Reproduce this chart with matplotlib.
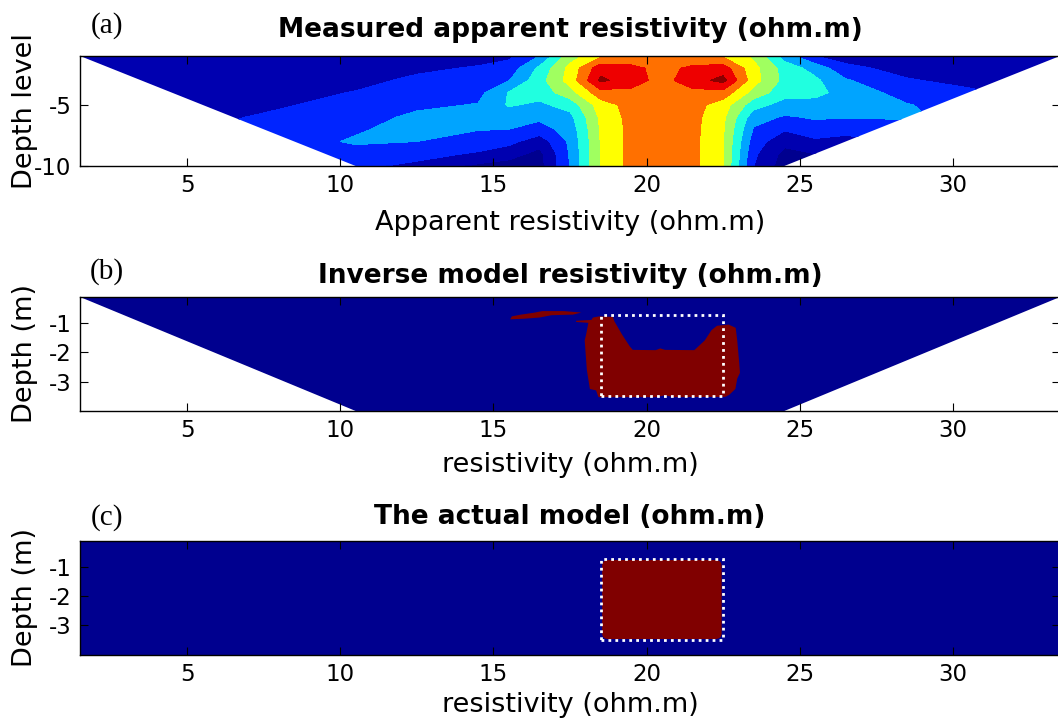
import matplotlib
matplotlib.use("Agg")
import matplotlib.pyplot as plt
from matplotlib.patches import Polygon, Rectangle, FancyBboxPatch

plt.rcParams["axes.unicode_minus"] = False
plt.rcParams["font.family"] = "DejaVu Sans"

# ---- (a) measured apparent resistivity pseudo-section (ohm.m) ----
x_stations = [1.5, 4.5, 7.5, 10.5, 12.5, 14.5, 15.5, 16.5, 17.5, 18.5, 19.5,
              20.5, 21.5, 22.5, 23.5, 24.5, 25.5, 26.5, 28.5, 30.5, 33.5]
depth_levels = [-1, -2, -3, -4, -5, -6, -7, -8, -9, -10]
app_res = [
    [1.1, 1.1, 1.15, 1.25, 1.4, 1.6, 1.8, 3.0, 5.5, 6.8, 6.9, 7.1, 6.9, 6.8, 5.8, 3.5, 2.0, 1.5, 1.3, 1.2, 1.1],
    [1.1, 1.15, 1.25, 1.45, 1.8, 2.1, 2.4, 4.2, 6.3, 8.6, 8.4, 7.5, 8.3, 8.5, 6.3, 4.6, 3.6, 2.3, 1.6, 1.35, 1.15],
    [1.1, 1.2, 1.4, 1.7, 2.2, 2.4, 2.95, 4.6, 6.4, 9.2, 8.5, 7.6, 8.6, 9.3, 6.4, 4.7, 4.2, 3.1, 2.1, 1.7, 1.3],
    [1.1, 1.3, 1.55, 2.05, 2.5, 2.7, 4.05, 4.4, 5.6, 7.6, 7.7, 7.6, 7.7, 7.6, 5.6, 4.4, 4.3, 3.6, 2.6, 2.2, 1.5],
    [1.1, 1.45, 1.8, 2.35, 2.8, 3.05, 4.1, 3.8, 4.4, 6.5, 7.4, 7.6, 7.4, 6.5, 4.4, 3.6, 3.6, 3.4, 3.05, 2.6, 1.7],
    [1.1, 1.6, 2.1, 2.6, 3.2, 3.3, 3.4, 3.2, 3.7, 6.2, 7.35, 7.6, 7.35, 6.2, 3.4, 2.9, 3.1, 3.05, 3.1, 2.8, 1.9],
    [1.1, 1.8, 2.35, 2.9, 3.3, 3.05, 3.0, 2.6, 3.4, 6.1, 7.3, 7.6, 7.3, 6.1, 2.9, 2.1, 2.6, 2.4, 2.6, 2.6, 2.0],
    [1.1, 2.0, 2.5, 3.1, 3.0, 2.5, 2.3, 1.4, 3.2, 6.05, 7.3, 7.6, 7.3, 6.05, 2.5, 1.3, 1.8, 1.6, 2.0, 2.2, 2.0],
    [1.1, 2.1, 2.6, 2.7, 2.3, 1.9, 1.4, 0.7, 3.1, 6.05, 7.3, 7.6, 7.3, 6.05, 2.2, 0.7, 1.0, 1.1, 1.5, 1.8, 2.0],
    [1.1, 2.2, 2.6, 2.2, 1.8, 0.8, 0.6, 0.6, 3.05, 6.05, 7.3, 7.6, 7.3, 6.0, 2.0, 0.5, 0.8, 0.9, 1.2, 1.5, 2.0],
]
res_levels = [0, 1, 2, 3, 4, 5, 6, 7, 8, 9, 10]
band_colors = ["#00008F", "#0000B0", "#0024FF", "#00A4FF", "#20FFE0",
               "#A0FF60", "#FFFF00", "#FF7000", "#EE0000", "#8A0000"]

# pseudo-section coverage: x extent at the top and bottom of each panel
cover_top = [1.5, 33.5]
cover_bottom = [10.5, 24.5]

# ---- (b) inverse model: high resistivity zones ----
body_x = [17.7, 18.2, 18.25, 18.45, 18.9, 18.95, 19.2, 19.45, 19.55, 20.3, 20.45,
          20.6, 21.56, 21.9, 22.12, 22.3, 22.68, 22.91, 22.96, 23.02, 23.05, 22.96,
          22.9, 22.7, 22.57, 20.9, 20.6, 20.3, 18.43, 18.35, 18.15, 18.05, 17.98,
          18.03, 18.1, 17.7]
body_y = [-0.93, -0.9, -0.82, -0.78, -0.8, -0.95, -1.4, -1.8, -1.92, -1.93, -1.87,
          -1.92, -1.93, -1.6, -1.25, -1.1, -1.06, -1.17, -1.6, -2.3, -2.7, -2.9,
          -3.25, -3.45, -3.52, -3.53, -3.47, -3.53, -3.53, -3.3, -3.25, -2.6, -1.6,
          -1.38, -1.0, -0.97]
streak_x = [15.55, 15.6, 15.9, 16.3, 16.6, 17.3, 17.87, 17.6, 16.9, 16.5, 16.0]
streak_y = [-0.88, -0.78, -0.72, -0.66, -0.6, -0.6, -0.65, -0.72, -0.74, -0.82, -0.86]

# ---- (c) actual model block ----
block_x = [18.5, 22.5]
block_y = [-3.5, -0.75]

model_top, model_bottom = -0.12, -4.0
navy = "#00008F"
dark_red = "#800000"

fig = plt.figure(figsize=(10.58, 7.21), dpi=100)
ax_a = fig.add_axes([0.0756, 0.7698, 0.9263, 0.1526])
ax_b = fig.add_axes([0.0756, 0.4300, 0.9263, 0.1581])
ax_c = fig.add_axes([0.0756, 0.0922, 0.9263, 0.1574])

# (a)
cs = ax_a.contourf(x_stations, depth_levels, app_res, levels=res_levels, colors=band_colors)
trap_a = Polygon([(cover_top[0], depth_levels[0]), (cover_top[1], depth_levels[0]),
                  (cover_bottom[1], depth_levels[-1]), (cover_bottom[0], depth_levels[-1])],
                 closed=True, transform=ax_a.transData)
cs.set_clip_path(trap_a)
ax_a.set_ylim(depth_levels[-1], depth_levels[0])
ax_a.set_yticks([-10, -5])

# (b)
ax_b.fill([cover_top[0], cover_top[1], cover_bottom[1], cover_bottom[0]],
          [model_top, model_top, model_bottom, model_bottom], color=navy, lw=0)
ax_b.fill(streak_x, streak_y, color=dark_red, lw=0)
ax_b.fill(body_x, body_y, color=dark_red, lw=0)

# (c)
ax_c.set_facecolor(navy)
ax_c.add_patch(FancyBboxPatch((block_x[0] + 0.05, block_y[0] + 0.03),
                              block_x[1] - block_x[0] - 0.1, block_y[1] - block_y[0] - 0.05,
                              boxstyle="round,pad=0,rounding_size=0.2",
                              fc=dark_red, ec="none"))

for ax in (ax_b, ax_c):
    ax.add_patch(Rectangle((block_x[0], block_y[0]), block_x[1] - block_x[0],
                           block_y[1] - block_y[0], fill=False, ec="white",
                           lw=2, ls=(0, (1, 1.5))))
    ax.set_ylim(model_bottom, model_top)
    ax.set_yticks([-3, -2, -1])

titles = ["Measured apparent resistivity (ohm.m)", "Inverse model resistivity (ohm.m)",
          "The actual model (ohm.m)"]
xlabels = ["Apparent resistivity (ohm.m)", "resistivity (ohm.m)", "resistivity (ohm.m)"]
ylabels = ["Depth level", "Depth (m)", "Depth (m)"]
letters = ["(a)", "(b)", "(c)"]
title_pads = [14, 10, 12.5]
xlabel_y = [-0.40, -0.36, -0.33]
letter_y = [1.28, 1.22, 1.21]

for ax, t, xl, yl, let, tp, xly, ly in zip((ax_a, ax_b, ax_c), titles, xlabels, ylabels,
                                          letters, title_pads, xlabel_y, letter_y):
    ax.set_xlim(1.5, 33.5)
    ax.set_xticks([5, 10, 15, 20, 25, 30])
    ax.tick_params(direction="in", top=True, right=True, length=6, width=0.8,
                   labelsize=16.5, pad=6)
    for s in ax.spines.values():
        s.set_linewidth(1.0)
    ax.set_title(t, fontsize=19, fontweight="bold", pad=tp)
    ax.set_xlabel(xl, fontsize=19.5)
    ax.xaxis.set_label_coords(0.5, xly)
    ax.set_ylabel(yl, fontsize=19.5)
    ax.yaxis.set_label_coords(-0.043, 0.5)
    ax.text(0.0276, ly, let, transform=ax.transAxes, fontsize=21,
            family="Liberation Serif", va="center", ha="center")

fig.savefig("out.png", dpi=100)
